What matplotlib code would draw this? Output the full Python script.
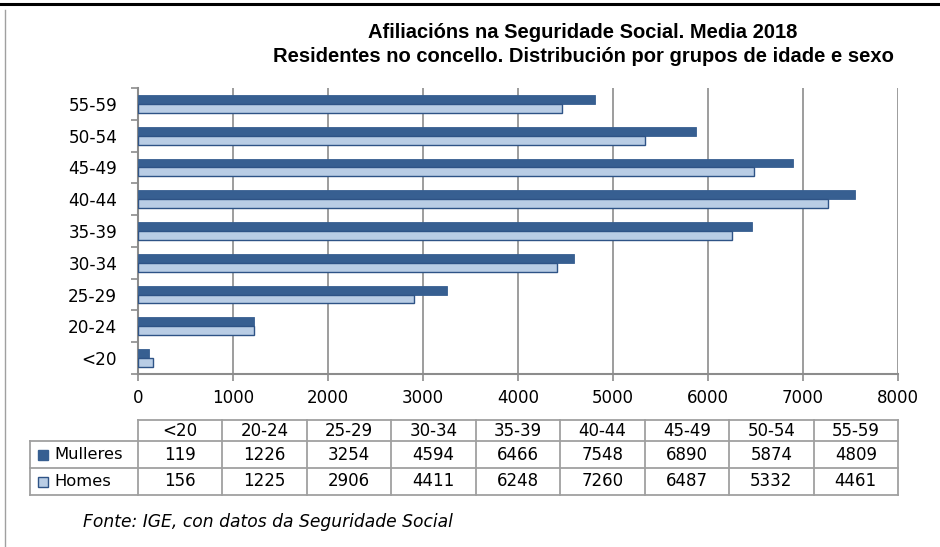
import matplotlib
matplotlib.use("Agg")
import matplotlib.pyplot as plt
from matplotlib.lines import Line2D
from matplotlib.patches import Rectangle
import numpy as np

categories = ["<20", "20-24", "25-29", "30-34", "35-39", "40-44", "45-49", "50-54", "55-59"]
mulleres = [119, 1226, 3254, 4594, 6466, 7548, 6890, 5874, 4809]
homes = [156, 1225, 2906, 4411, 6248, 7260, 6487, 5332, 4461]
series_names = ["Mulleres", "Homes"]
title1 = "Afiliacións na Seguridade Social. Media 2018"
title2 = "Residentes no concello. Distribución por grupos de idade e sexo"
source = "Fonte: IGE, con datos da Seguridade Social"

W, H = 940, 547
DARK = "#375F91"
LIGHT = "#B9CDE5"
EDGE = "#2E5386"
GRID = "#8C8C8C"

fig = plt.figure(figsize=(W / 100, H / 100), dpi=100)

def fx(x):
    return x / W

def fy(y):
    return 1 - y / H

# frame lines
fig.add_artist(Line2D([0, 1], [fy(4), fy(4)], color="black", lw=2.2))
fig.add_artist(Line2D([fx(5), fx(5)], [fy(10), 0], color="#A0A0A0", lw=1.0))

# axes
ax_l, ax_r, ax_t, ax_b = 138, 898, 88, 374
ax = fig.add_axes([fx(ax_l), fy(ax_b), fx(ax_r - ax_l), (ax_b - ax_t) / H])
n = len(categories)
y = np.arange(n)
bh = 0.28
ax.barh(y + bh / 2, mulleres, height=bh, color=DARK, edgecolor=DARK, lw=0.6, zorder=3)
ax.barh(y - bh / 2, homes, height=bh, color=LIGHT, edgecolor=EDGE, lw=1.0, zorder=3)
ax.set_xlim(0, 8000)
ax.set_ylim(-0.5, n - 0.5)
ax.set_xticks(np.arange(0, 8001, 1000))
ax.set_yticks(y)
ax.set_yticklabels(categories)
ax.set_yticks(np.arange(-0.5, n, 1.0), minor=True)
ax.tick_params(axis="y", which="major", length=0, pad=15, labelsize=12.2)
ax.tick_params(axis="y", which="minor", length=5, color=GRID, width=1.2)
ax.tick_params(axis="x", length=5, color=GRID, width=1.2, labelsize=12, pad=6)
ax.grid(axis="x", color=GRID, lw=1.2, zorder=0)
for s in ["top", "right"]:
    ax.spines[s].set_visible(False)
for s in ["left", "bottom"]:
    ax.spines[s].set_color(GRID)
    ax.spines[s].set_linewidth(1.5)

# titles
fig.text(fx(583), fy(33), title1, ha="center", va="center", fontsize=14.5,
         fontweight="bold", family="Liberation Sans")
fig.text(fx(583), fy(57), title2, ha="center", va="center", fontsize=14.5,
         fontweight="bold", family="Liberation Sans")

# data table
tcol0, tcol1 = 30, 138
colw = (ax_r - ax_l) / n
rows = [420, 441, 468, 495]
lc = "#A0A0A0"
def hline(x0, x1, yy):
    fig.add_artist(Line2D([fx(x0), fx(x1)], [fy(yy), fy(yy)], color=lc, lw=1.3))
def vline(xx, y0, y1):
    fig.add_artist(Line2D([fx(xx), fx(xx)], [fy(y0), fy(y1)], color=lc, lw=1.3))

hline(tcol1, ax_r, rows[0])
for r in rows[1:]:
    hline(tcol0, ax_r, r)
vline(tcol0, rows[1], rows[3])
for i in range(n + 1):
    vline(ax_l + i * colw, rows[0], rows[3])

fs_t = 12
for i, c in enumerate(categories):
    cx = ax_l + (i + 0.5) * colw
    fig.text(fx(cx), fy((rows[0] + rows[1]) / 2), c, ha="center", va="center", fontsize=fs_t)
    fig.text(fx(cx), fy((rows[1] + rows[2]) / 2), str(mulleres[i]), ha="center", va="center", fontsize=fs_t)
    fig.text(fx(cx), fy((rows[2] + rows[3]) / 2), str(homes[i]), ha="center", va="center", fontsize=fs_t)

for k, (name, fc, ec) in enumerate([(series_names[0], DARK, DARK), (series_names[1], LIGHT, EDGE)]):
    cy = (rows[1 + k] + rows[2 + k]) / 2
    fig.add_artist(Rectangle((fx(38), fy(cy + 5)), fx(10), 10 / H, facecolor=fc,
                             edgecolor=ec, lw=1.0, transform=fig.transFigure))
    fig.text(fx(54), fy(cy), name, ha="left", va="center", fontsize=11.8)

fig.text(fx(83), fy(522), source, ha="left", va="center", fontsize=12.3, style="italic")

fig.savefig("out.png", dpi=100)
